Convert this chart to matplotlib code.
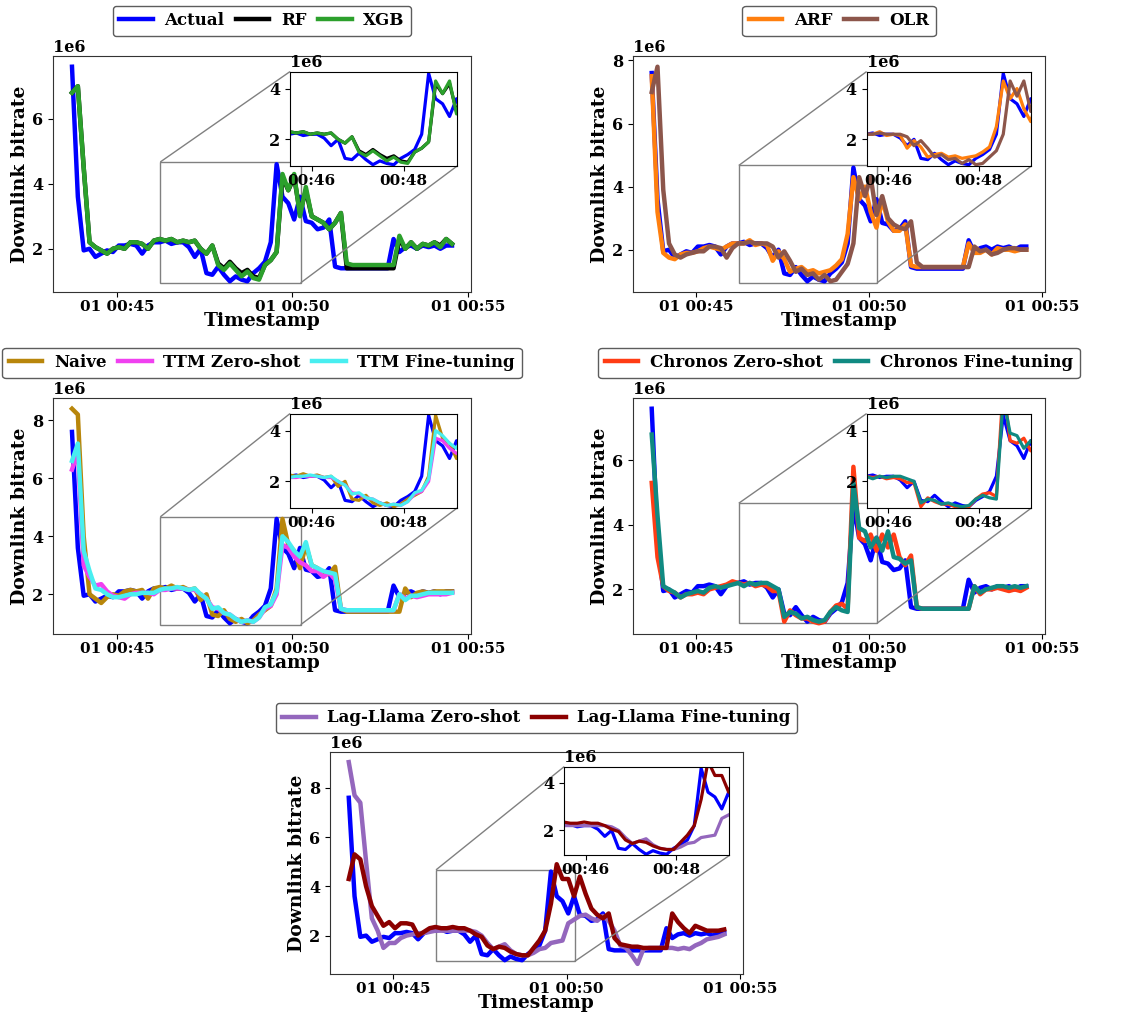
import numpy as np
import pandas as pd
import matplotlib
matplotlib.use("Agg")
import matplotlib.pyplot as plt
import matplotlib.dates as mdates
from matplotlib.ticker import FixedLocator, FixedFormatter
from mpl_toolkits.axes_grid1.inset_locator import mark_inset

plt.rcParams.update({
    "font.family": "DejaVu Serif",
    "font.weight": "bold",
    "axes.labelweight": "bold",
    "font.size": 11,
    "axes.labelsize": 13.5,
    "xtick.labelsize": 11,
    "ytick.labelsize": 11.5,
    "legend.fontsize": 12,
})

# 10-second samples starting at 00:43:43 (values in bit/s)
timestamps = pd.date_range("2024-01-01 00:43:43", periods=66, freq="10s")

actual = [7.6, 3.6, 1.95, 2.0, 1.75, 1.85, 1.95, 1.9, 2.1, 2.1, 2.15, 2.1, 1.85, 2.1, 2.2, 2.2,
          2.25, 2.15, 2.2, 2.2, 2.05, 1.75, 2.0, 1.25, 1.2, 1.45, 1.2, 1.0, 1.15, 1.05, 1.0, 1.25,
          1.4, 1.6, 2.2, 4.6, 3.6, 3.4, 2.9, 3.6, 2.85, 2.8, 2.6, 2.65, 2.9, 1.45, 1.4, 1.4, 1.4,
          1.4, 1.4, 1.4, 1.4, 1.4, 1.4, 2.3, 1.9, 2.05, 2.1, 2.0, 2.1, 2.05, 2.1, 2.0, 2.1, 2.1]
xgb = [6.8, 7.0, 4.5, 2.2, 2.05, 1.95, 1.85, 2.0, 2.05, 2.0, 2.2, 2.2, 2.15, 2.0, 2.25, 2.3,
       2.25, 2.3, 2.2, 2.25, 2.2, 2.25, 2.0, 1.85, 2.1, 1.5, 1.35, 1.55, 1.35, 1.15, 1.3, 1.1,
       1.05, 1.5, 1.65, 1.9, 4.3, 3.8, 4.3, 3.0, 3.9, 3.0, 2.9, 2.8, 2.6, 2.8, 3.1, 1.55, 1.5,
       1.5, 1.5, 1.5, 1.5, 1.5, 1.5, 1.5, 2.4, 2.0, 2.2, 2.0, 2.15, 2.1, 2.2, 2.05, 2.3, 2.15]
rf = [6.8, 7.0, 4.5, 2.2, 2.05, 1.95, 1.85, 2.0, 2.05, 2.0, 2.2, 2.2, 2.15, 2.0, 2.25, 2.3,
      2.25, 2.3, 2.2, 2.25, 2.2, 2.25, 2.0, 1.85, 2.1, 1.55, 1.4, 1.6, 1.4, 1.25, 1.35, 1.15,
      1.1, 1.5, 1.65, 1.9, 4.2, 3.8, 4.2, 3.1, 3.8, 3.0, 2.9, 2.8, 2.6, 2.8, 3.1, 1.4, 1.4,
      1.4, 1.4, 1.4, 1.4, 1.4, 1.4, 1.4, 2.3, 2.0, 2.2, 2.0, 2.15, 2.1, 2.2, 2.1, 2.3, 2.15]
arf = [7.5, 3.2, 1.9, 1.75, 1.7, 1.85, 1.9, 1.9, 1.95, 2.05, 2.1, 2.05, 2.0, 2.1, 2.2, 2.2,
       2.2, 2.3, 2.15, 2.2, 2.15, 1.65, 1.95, 1.7, 1.3, 1.4, 1.45, 1.3, 1.35, 1.25, 1.3, 1.35,
       1.5, 1.7, 2.5, 4.3, 3.6, 4.0, 3.2, 2.7, 3.6, 2.9, 2.6, 2.6, 2.8, 1.5, 1.45, 1.45, 1.45,
       1.45, 1.45, 1.45, 1.45, 1.45, 1.45, 2.2, 1.9, 1.9, 2.0, 1.85, 2.05, 2.0, 2.0, 1.95, 2.0, 2.0]
olr = [7.0, 7.8, 3.9, 2.2, 1.85, 1.75, 1.85, 1.9, 1.95, 1.95, 2.1, 2.1, 2.05, 1.75, 2.05, 2.2,
       2.2, 2.25, 2.2, 2.2, 2.2, 2.1, 1.75, 1.95, 1.65, 1.3, 1.4, 1.2, 1.25, 1.05, 1.2, 1.0,
       1.05, 1.3, 1.55, 2.2, 4.3, 3.7, 4.3, 3.1, 3.7, 3.0, 2.8, 2.7, 2.65, 2.9, 1.6, 1.45, 1.45,
       1.45, 1.45, 1.45, 1.45, 1.45, 1.45, 1.45, 2.1, 1.95, 2.0, 1.85, 1.9, 2.0, 2.05, 2.05, 2.0, 2.0]
naive = [8.4, 8.2, 4.0, 2.0, 1.85, 1.7, 1.9, 2.0, 1.95, 2.1, 2.15, 2.1, 2.15, 1.85, 2.2, 2.25,
         2.2, 2.3, 2.2, 2.25, 2.15, 2.2, 1.8, 2.0, 1.3, 1.25, 1.45, 1.15, 1.05, 1.15, 1.0, 1.1,
         1.3, 1.45, 1.6, 2.2, 4.6, 3.7, 3.5, 2.9, 3.7, 3.0, 2.9, 2.7, 2.7, 2.95, 1.5, 1.4, 1.4,
         1.4, 1.4, 1.4, 1.4, 1.4, 1.4, 1.4, 1.4, 2.2, 1.9, 2.05, 2.1, 2.05, 2.1, 2.1, 2.1, 2.1]
ttm_zs = [6.3, 6.9, 3.0, 2.6, 2.3, 2.35, 2.1, 1.95, 1.9, 1.85, 2.0, 2.05, 2.05, 2.05, 2.0, 2.15,
          2.15, 2.2, 2.2, 2.2, 2.15, 2.15, 2.0, 1.85, 1.55, 1.5, 1.35, 1.3, 1.15, 1.05, 1.1, 1.05,
          1.2, 1.5, 1.6, 2.0, 3.7, 3.6, 3.3, 3.1, 3.0, 2.8, 2.8, 2.6, 2.75, 2.5, 1.5, 1.45, 1.45,
          1.45, 1.45, 1.45, 1.45, 1.45, 1.45, 1.45, 2.0, 1.85, 1.95, 1.9, 1.95, 2.0, 2.0, 2.0, 2.0, 2.05]
ttm_ft = [6.6, 7.2, 3.5, 2.8, 2.2, 2.15, 2.0, 1.9, 1.9, 1.95, 2.0, 2.0, 2.05, 2.05, 2.05, 2.15,
          2.2, 2.2, 2.25, 2.2, 2.15, 2.2, 2.0, 1.85, 1.5, 1.55, 1.35, 1.3, 1.15, 1.05, 1.1, 1.05,
          1.2, 1.55, 1.65, 2.1, 4.0, 3.8, 3.5, 3.3, 3.8, 3.0, 2.9, 2.8, 2.75, 2.7, 1.5, 1.45, 1.45,
          1.45, 1.45, 1.45, 1.45, 1.45, 1.45, 1.45, 2.0, 1.8, 1.95, 1.95, 2.0, 2.05, 2.05, 2.05, 2.05, 2.05]
chronos_zs = [5.3, 3.0, 2.1, 1.95, 1.9, 1.75, 1.85, 1.85, 1.9, 1.85, 2.0, 2.05, 2.1, 2.15, 2.25, 2.2,
              2.15, 2.2, 2.1, 2.15, 2.1, 1.95, 1.95, 1.0, 1.35, 1.2, 1.1, 1.1, 1.0, 0.95, 1.0, 1.3,
              1.5, 1.55, 1.4, 5.8, 3.6, 3.5, 3.7, 3.2, 3.7, 3.3, 3.7, 3.0, 2.75, 3.05, 1.45, 1.4, 1.4,
              1.4, 1.4, 1.4, 1.4, 1.4, 1.4, 1.4, 2.1, 1.85, 2.0, 2.0, 2.05, 2.0, 1.95, 2.0, 1.95, 2.05]
chronos_ft = [6.8, 4.3, 2.1, 2.0, 1.9, 1.75, 1.85, 1.9, 1.95, 1.9, 2.05, 2.1, 2.05, 2.1, 2.15, 2.2,
              2.1, 2.2, 2.15, 2.2, 2.2, 2.1, 2.0, 1.15, 1.3, 1.25, 1.1, 1.15, 1.05, 1.0, 1.05, 1.3,
              1.45, 1.35, 1.3, 5.3, 3.9, 3.8, 3.3, 3.6, 3.2, 3.8, 3.0, 2.95, 2.8, 2.9, 1.45, 1.4, 1.4,
              1.4, 1.4, 1.4, 1.4, 1.4, 1.4, 1.4, 2.1, 1.9, 2.0, 2.05, 2.1, 2.1, 2.05, 2.1, 2.05, 2.1]
lag_zs = [9.05, 7.7, 7.4, 5.0, 2.7, 2.2, 1.5, 1.7, 1.7, 1.9, 2.0, 2.05, 2.1, 2.1, 2.15, 2.2,
          2.2, 2.2, 2.2, 2.2, 2.2, 2.2, 2.15, 2.0, 1.7, 1.45, 1.55, 1.65, 1.4, 1.25, 1.2, 1.2,
          1.3, 1.45, 1.5, 1.7, 1.75, 1.8, 2.5, 2.65, 2.8, 2.85, 2.7, 2.6, 2.8, 2.6, 2.2, 1.6, 1.5,
          1.2, 0.85, 1.45, 1.5, 1.5, 1.5, 1.5, 1.5, 1.45, 1.5, 1.45, 1.6, 1.7, 1.85, 1.9, 1.95, 2.05]
lag_ft = [4.3, 5.3, 5.1, 4.0, 3.2, 2.8, 2.4, 2.55, 2.3, 2.5, 2.5, 2.45, 2.0, 2.15, 2.3, 2.35,
          2.3, 2.3, 2.35, 2.3, 2.3, 2.2, 2.05, 1.95, 1.6, 1.45, 1.55, 1.5, 1.35, 1.25, 1.2, 1.2,
          1.5, 1.8, 2.2, 3.3, 4.9, 4.3, 4.3, 3.6, 4.4, 3.7, 3.1, 2.85, 2.7, 2.9, 1.9, 1.65, 1.6,
          1.55, 1.55, 1.5, 1.5, 1.5, 1.5, 1.5, 2.9, 2.55, 2.3, 2.1, 2.4, 2.3, 2.2, 2.2, 2.2, 2.25]

# zoomed window and inset tick labels
zoom_start = pd.Timestamp("2024-01-01 00:46:14")
zoom_end = pd.Timestamp("2024-01-01 00:50:14")
zoom_ylim = (0.95e6, 4.67e6)
inset_ticks = [pd.Timestamp("2024-01-01 00:46:45"), pd.Timestamp("2024-01-01 00:48:57")]
inset_tick_labels = ["00:46", "00:48"]

panels = [
    ([("Actual", actual, "blue"), ("RF", rf, "black"), ("XGB", xgb, "#2ca02c")], True),
    ([("ARF", arf, "#ff7f0e"), ("OLR", olr, "#8c564b")], False),
    ([("Naive", naive, "#b8860b"), ("TTM Zero-shot", ttm_zs, "#f040f0"),
      ("TTM Fine-tuning", ttm_ft, "#48eef0")], False),
    ([("Chronos Zero-shot", chronos_zs, "#ff3c14"), ("Chronos Fine-tuning", chronos_ft, "#108a82")], False),
    ([("Lag-Llama Zero-shot", lag_zs, "#9467bd"), ("Lag-Llama Fine-tuning", lag_ft, "#8b0000")], False),
]

W, H = 1128, 1017
# axes boxes in pixels: left, top, right, bottom
boxes = [(53, 56, 471, 292), (633, 56, 1045, 292),
         (53, 398, 471, 634), (633, 398, 1045, 634),
         (330, 752, 743, 974)]

fig = plt.figure(figsize=(W / 100, H / 100), dpi=100)

for (series, with_actual), (l, t, r, b) in zip(panels, boxes):
    ax = fig.add_axes([l / W, 1 - b / H, (r - l) / W, (b - t) / H])
    axins = ax.inset_axes([0.567, 0.534, 0.40, 0.40])

    ax.plot(timestamps, np.array(actual) * 1e6, color="blue", lw=3.2,
            label="Actual" if with_actual else None)
    axins.plot(timestamps, np.array(actual) * 1e6, color="blue", lw=2.3)
    for name, vals, color in series:
        if name == "Actual":
            continue
        ax.plot(timestamps, np.array(vals) * 1e6, color=color, lw=3.2, label=name)
        axins.plot(timestamps, np.array(vals) * 1e6, color=color, lw=2.3)

    ax.xaxis.set_major_locator(mdates.MinuteLocator(byminute=[45, 50, 55]))
    ax.xaxis.set_major_formatter(mdates.DateFormatter("%d %H:%M"))
    ax.tick_params(axis="x", pad=2)
    ax.set_xlabel("Timestamp", labelpad=-1)
    ax.set_ylabel("Downlink bitrate", labelpad=2)
    for s in ax.spines.values():
        s.set_edgecolor("0.2")

    axins.set_xlim(zoom_start, zoom_end)
    axins.set_ylim(*zoom_ylim)
    axins.xaxis.set_major_locator(FixedLocator(mdates.date2num(inset_ticks)))
    axins.xaxis.set_major_formatter(FixedFormatter(inset_tick_labels))
    axins.set_yticks([2e6, 4e6])
    axins.tick_params(axis="x", pad=2)
    mark_inset(ax, axins, loc1=2, loc2=4, fc="none", ec="0.5", lw=1)

    handles, labels = ax.get_legend_handles_labels()
    ax.legend(handles, labels, loc="lower center", bbox_to_anchor=(0.5, 1.085),
              ncol=len(labels), frameon=True, edgecolor="0.2", borderaxespad=0,
              handlelength=2.0, handletextpad=0.7, columnspacing=0.7,
              borderpad=0.4)

fig.savefig("out.png", dpi=100)
